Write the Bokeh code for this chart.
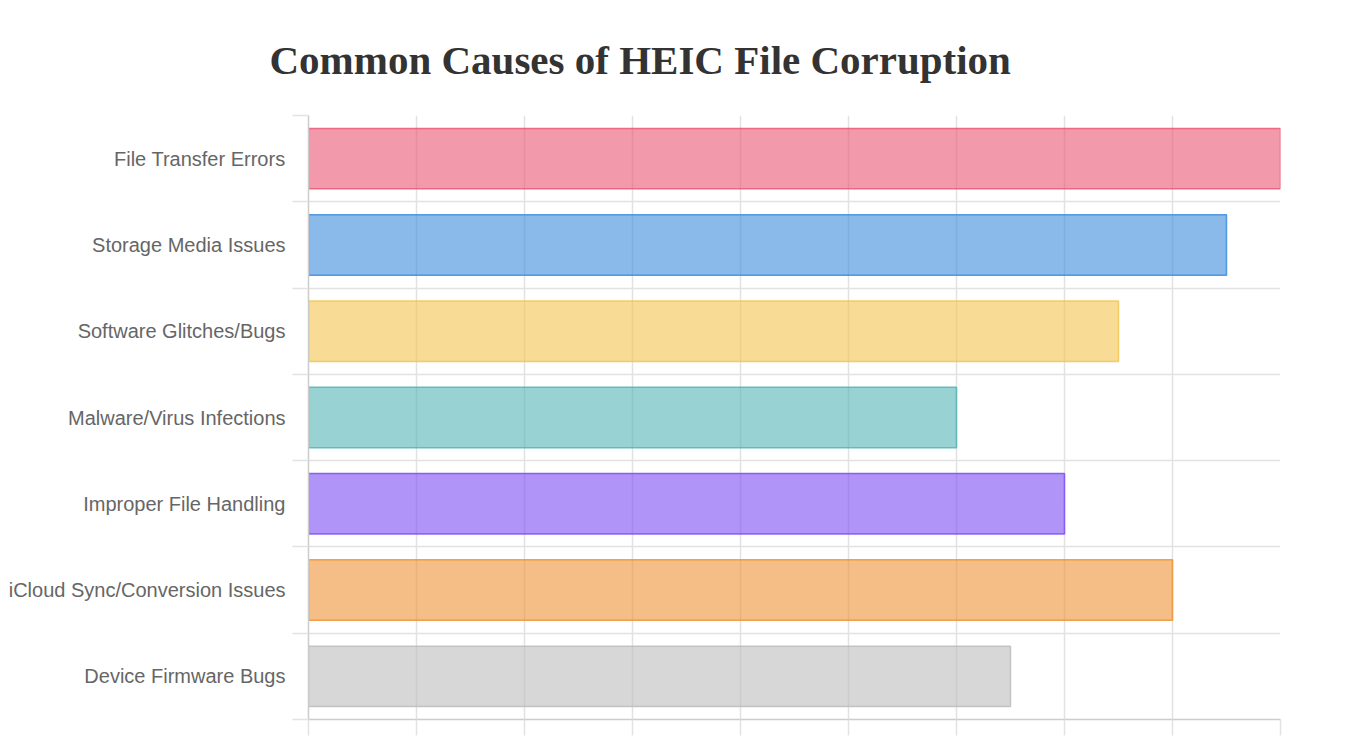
from bokeh.plotting import figure
from bokeh.models import Range1d, FixedTicker, ColumnDataSource
from bokeh.embed import file_html
from bokeh.resources import INLINE

# Data
categories = ["File Transfer Errors", "Storage Media Issues", "Software Glitches/Bugs",
              "Malware/Virus Infections", "Improper File Handling",
              "iCloud Sync/Conversion Issues", "Device Firmware Bugs"]
values = [90, 85, 75, 60, 70, 80, 65]
colors = ["#E95773", "#3C8CDC", "#F3C550", "#53B4B4", "#7D4DF2", "#EE9335", "#BCBCBC"]
x_ticks = [0, 10, 20, 30, 40, 50, 60, 70, 80, 90]

n = len(categories)
centers = [i + 0.5 for i in range(n)]
boundaries = list(range(n + 1))

src = ColumnDataSource(dict(y=centers, right=values, color=colors, cat=categories))

p = figure(width=1360, height=745, output_backend="svg", toolbar_location=None,
           x_range=Range1d(0, 90), y_range=Range1d(n, 0),
           min_border_left=308, min_border_right=80, min_border_top=115, min_border_bottom=26)

p.hbar(y="y", left=0, right="right", height=0.7, source=src,
       fill_color="color", fill_alpha=0.6, line_color="color", line_alpha=0.85, line_width=1.5)

p.title.text = "Common Causes of HEIC File Corruption"
p.title.text_font = "Liberation Serif"
p.title.text_font_style = "bold"
p.title.text_font_size = "41px"
p.title.text_color = "#333333"
p.title.align = "left"
p.title.offset = -39
p.title.standoff = 66

p.outline_line_color = None
p.background_fill_color = "white"
p.border_fill_color = "white"

# x axis
p.xaxis.ticker = FixedTicker(ticks=x_ticks)
p.xaxis.major_tick_out = 16
p.xaxis.major_tick_in = 0
p.xaxis.major_tick_line_color = "#e2e2e2"
p.xaxis.major_tick_line_width = 1.5
p.xaxis.minor_tick_line_color = None
p.xaxis.major_label_text_color = None
p.xaxis.major_label_text_font_size = "1px"
p.xaxis.major_label_standoff = 0
p.xaxis.axis_line_color = "#cccccc"
p.xaxis.axis_line_width = 1.5
p.xgrid.ticker = FixedTicker(ticks=x_ticks)
p.xgrid.grid_line_color = "#e2e2e2"
p.xgrid.grid_line_width = 1.5

# y axis
p.yaxis.ticker = FixedTicker(ticks=centers, minor_ticks=boundaries)
p.yaxis.major_label_overrides = {c: cat for c, cat in zip(centers, categories)}
p.yaxis.major_tick_out = 0
p.yaxis.major_tick_in = 0
p.yaxis.minor_tick_out = 16
p.yaxis.minor_tick_in = 0
p.yaxis.minor_tick_line_color = "#e2e2e2"
p.yaxis.minor_tick_line_width = 1.5
p.yaxis.major_label_standoff = 7
p.yaxis.major_label_text_font = "Liberation Sans"
p.yaxis.major_label_text_font_size = "20px"
p.yaxis.major_label_text_color = "#666666"
p.yaxis.axis_line_color = "#cccccc"
p.yaxis.axis_line_width = 1.5
p.ygrid.ticker = FixedTicker(ticks=boundaries)
p.ygrid.grid_line_color = "#e2e2e2"
p.ygrid.grid_line_width = 1.5

open("out.html", "w").write(file_html(p, INLINE))
